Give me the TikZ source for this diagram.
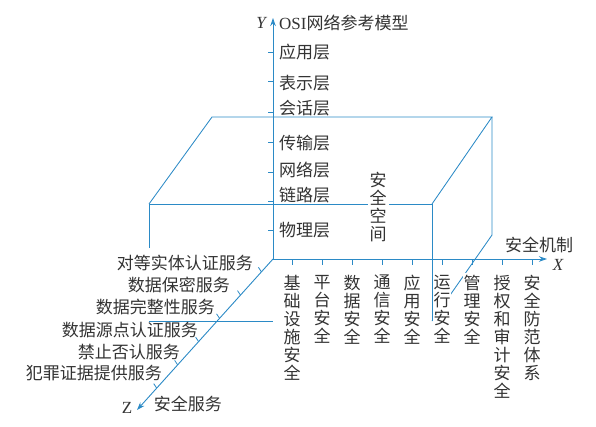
\documentclass[tikz,border=0pt]{standalone}
\usepackage{fontspec}
\setmainfont{Liberation Serif}
\newfontfamily\cjk{Noto Sans CJK SC}
\usetikzlibrary{arrows.meta,calc,positioning}
\definecolor{axisblue}{HTML}{2B8AC6}
\definecolor{ink}{HTML}{333333}

\begin{document}
\begin{tikzpicture}[x=1pt,y=1pt,
  axis/.style={axisblue,line width=0.9pt,-{Stealth[length=8pt,width=5.5pt]}},
  edge/.style={axisblue,line width=0.85pt},
  tickmark/.style={axisblue,line width=0.8pt},
  lab/.style={ink,font=\cjk\fontsize{17}{18}\selectfont,inner sep=0pt},
  vlab/.style={lab,align=center,fill=white,inner xsep=0.5pt,inner ysep=2pt}]
\useasboundingbox (-273,-167) rectangle (323,259);
% axes end points
\coordinate (O) at (0,0);
\coordinate (xend) at (274,0);
\coordinate (yend) at (0,241);
\coordinate (zend) at (-136,-151);
% the box (security space)
\coordinate (f1) at (-124,55);
\coordinate (f2) at (159,55);
\coordinate (f3) at (159,-62);
\coordinate (f4) at (-124,-62);
\coordinate (b1) at (-61,142);
\coordinate (b2) at (219,142);
\coordinate (b3) at (219,24);
\coordinate (f1low) at (-124,11);
\coordinate (f4y) at (0,-62);
\draw[edge] (f1low) -- (f1) -- (f2) -- (f3);
\draw[edge] (f1) -- (b1) -- (b2) -- (f2);
\draw[edge] (b2) -- (b3) -- (f3);
\draw[edge] (f4) -- (f4y);
\node[vlab,align=center,inner xsep=2pt] (space) at (105,51.5) {安\\全\\空\\间};
% axes
\draw[axis] (O) -- (yend);
\draw[axis] (O) -- (xend);
\draw[axis] (O) -- (zend);
\node[ink,anchor=east,inner sep=0pt,font=\fontsize{17}{18}\selectfont\itshape] (ylab) at (-7,236) {Y};
\node[lab,anchor=west] (osi) at (6,236) {{\rmfamily OSI}网络参考模型};
\node[ink,inner sep=0pt,font=\fontsize{17}{18}\selectfont\itshape] (xlab) at (285,-6) {X};
\node[lab] (mech) at (266,14) {安全机制};
\node[ink,inner sep=0pt,font=\fontsize{17}{18}\selectfont] (zlab) at (-146,-149) {Z};
\node[lab] (serv) at (-85,-145) {安全服务};
% Y axis: OSI layers
\foreach \y [count=\n] in {207,178,147,117,87,58,29}
  \draw[tickmark] (0,\y) coordinate (yt\n) -- ++(-5,0);
\foreach \y/\txt [count=\n] in {207/应用层,176/表示层,151/会话层,116/传输层,89/网络层,64/链路层,29/物理层}
  \node[lab,anchor=west] (layer\n) at (6,\y) {\txt};
% X axis: security mechanisms
\foreach \txt [count=\n from 0] in {{基\\础\\设\\施\\安\\全},{平\\台\\安\\全},{数\\据\\安\\全},
    {通\\信\\安\\全},{应\\用\\安\\全},{运\\行\\安\\全},{管\\理\\安\\全},
    {授\\权\\和\\审\\计\\安\\全},{安\\全\\防\\范\\体\\系}}{
  \coordinate (xt\n) at (19+30*\n,0);
  \draw[tickmark] (xt\n) -- ++(0,-6);
  \node[vlab,anchor=north] (mec\n) at ($(xt\n)+(0,-14)$) {\txt};
}
% Z axis: security services
\foreach \t [count=\n] in {0.085,0.239,0.393,0.547,0.701,0.855}{
  \coordinate (zt\n) at ($(O)!\t!(zend)$);
  \draw[tickmark] (zt\n) -- ++(-3,4.5);
}
\foreach \pos/\txt [count=\n] in {{(-20,-4)}/对等实体认证服务,{(-43,-26)}/数据保密服务,
    {(-58,-48)}/数据完整性服务,{(-75,-71)}/数据源点认证服务,
    {(-93,-93)}/禁止否认服务,{(-111,-114)}/犯罪证据提供服务}
  \node[lab,anchor=east] (svc\n) at \pos {\txt};
\end{tikzpicture}
\end{document}
